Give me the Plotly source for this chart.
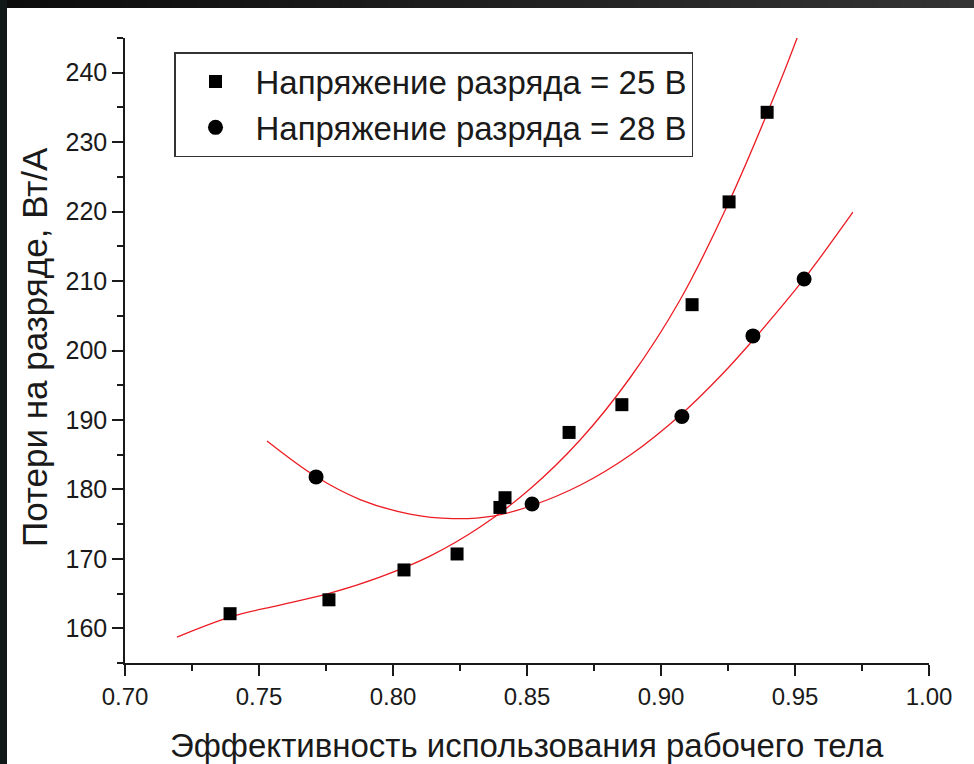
import plotly.graph_objects as go

# Measured points: discharge voltage 25 V (squares)
eff_25 = [0.7392, 0.7761, 0.8041, 0.8239, 0.8399, 0.8418, 0.8657, 0.8854, 0.9116, 0.9254, 0.9396]
loss_25 = [162.1, 164.1, 168.4, 170.7, 177.4, 178.8, 188.2, 192.2, 206.6, 221.4, 234.3]

# Measured points: discharge voltage 28 V (circles)
eff_28 = [0.7713, 0.8519, 0.9078, 0.9343, 0.9534]
loss_28 = [181.8, 177.9, 190.5, 202.1, 210.3]

# Fitted trend curves (sampled along each fit)
fit_25_x = [0.7194, 0.7392, 0.7578, 0.7765, 0.7951, 0.8138, 0.8325, 0.8511, 0.8698,
            0.8884, 0.9071, 0.9257, 0.9444, 0.9519]
fit_25_y = [158.74, 161.62, 163.35, 165.07, 167.38, 170.40, 174.58, 180.05, 187.11,
            196.04, 207.27, 221.67, 238.66, 246.15]
fit_28_x = [0.7530, 0.7709, 0.7877, 0.8063, 0.8224, 0.8373, 0.8519, 0.8698, 0.8884,
            0.9078, 0.9220, 0.9343, 0.9530, 0.9716]
fit_28_y = [186.96, 181.92, 178.54, 176.45, 175.80, 176.16, 177.68, 180.59, 184.91,
            190.90, 196.25, 201.48, 210.12, 219.91]

x_ticks = [0.70, 0.75, 0.80, 0.85, 0.90, 0.95, 1.00]
y_ticks = [160, 170, 180, 190, 200, 210, 220, 230, 240]

label_25 = "Напряжение разряда = 25 В"
label_28 = "Напряжение разряда = 28 В"
x_title = "Эффективность использования рабочего тела"
y_title = "Потери на разряде, Вт/А"

FONT = "Liberation Sans, Arial, sans-serif"
RED = "#ec1c24"
INK = "#1a1a1a"

W, H = 974, 764
ML, MR, MT, MB = 125, 45, 38, 101
PW, PH = W - ML - MR, H - MT - MB


def px_x(p):
    return (p - ML) / PW


def px_y(p):
    return (H - MB - p) / PH


fig = go.Figure()

fig.add_trace(go.Scatter(x=fit_25_x, y=fit_25_y, mode="lines",
                         line=dict(color=RED, width=1.3, shape="spline", smoothing=1.0),
                         showlegend=False, hoverinfo="skip"))
fig.add_trace(go.Scatter(x=fit_28_x, y=fit_28_y, mode="lines",
                         line=dict(color=RED, width=1.3, shape="spline", smoothing=1.0),
                         showlegend=False, hoverinfo="skip"))
fig.add_trace(go.Scatter(x=eff_25, y=loss_25, mode="markers", name=label_25,
                         marker=dict(symbol="square", size=13, color="black")))
fig.add_trace(go.Scatter(x=eff_28, y=loss_28, mode="markers", name=label_28,
                         marker=dict(symbol="circle", size=15, color="black")))

axis_common = dict(
    showline=True, linecolor=INK, linewidth=1.5, mirror=False,
    ticks="outside", ticklen=11, tickwidth=1.5, tickcolor=INK,
    showgrid=False, zeroline=False,
)

fig.update_xaxes(range=[0.70, 1.00], tickvals=x_ticks, ticktext=[f"{v:.2f}" for v in x_ticks],
                 tickfont=dict(family=FONT, size=24, color=INK),
                 minor=dict(dtick=0.025, tick0=0.70, ticks="outside", ticklen=6, tickwidth=1.5, tickcolor=INK),
                 **axis_common)
fig.update_yaxes(range=[155, 245], tickvals=y_ticks,
                 tickfont=dict(family=FONT, size=25, color=INK),
                 minor=dict(dtick=5, tick0=155, ticks="outside", ticklen=6, tickwidth=1.5, tickcolor=INK),
                 **axis_common)

# Dark frame strips along the top and left edges of the page
shapes = []
n = 40
for i in range(n):
    g = int(12 + (52 - 12) * i / (n - 1))
    shapes.append(dict(type="rect", xref="paper", yref="paper", layer="above",
                       x0=px_x(i * W / n), x1=px_x((i + 1) * W / n + 1), y0=px_y(8), y1=px_y(0),
                       fillcolor=f"rgb({g},{g},{g})", line=dict(width=0)))
shapes.append(dict(type="rect", xref="paper", yref="paper", layer="above",
                   x0=px_x(0), x1=px_x(7), y0=px_y(H), y1=px_y(0),
                   fillcolor="#121817", line=dict(width=0)))

fig.update_layout(
    width=W, height=H,
    margin=dict(l=ML, r=MR, t=MT, b=MB),
    paper_bgcolor="white", plot_bgcolor="white",
    font=dict(family=FONT, color=INK),
    shapes=shapes,
    showlegend=True,
    legend=dict(
        x=px_x(174), y=px_y(52), xanchor="left", yanchor="top",
        bgcolor="white", bordercolor="#333333", borderwidth=1.5,
        font=dict(family=FONT, size=33, color=INK),
        itemwidth=70, tracegroupgap=0,
    ),
    annotations=[
        dict(text=x_title, xref="paper", yref="paper", x=px_x(527), y=px_y(745),
             xanchor="center", yanchor="middle", showarrow=False,
             font=dict(family=FONT, size=33, color=INK)),
        dict(text=y_title, xref="paper", yref="paper", x=px_x(35), y=px_y(347),
             xanchor="center", yanchor="middle", showarrow=False, textangle=-90,
             font=dict(family=FONT, size=35, color=INK)),
    ],
)

fig.write_html("out.html")
